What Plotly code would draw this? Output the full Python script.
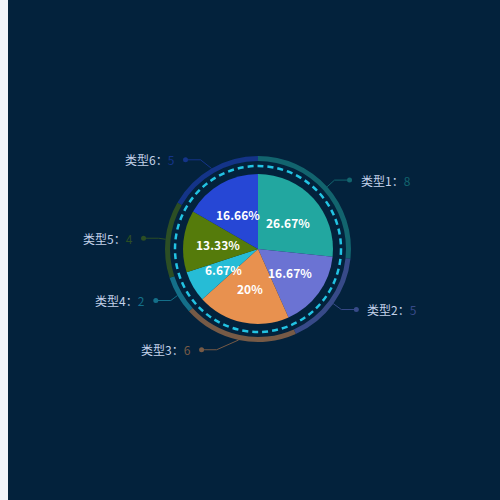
import numpy as np
import plotly.graph_objects as go

# 数据
categories = ['类型1', '类型2', '类型3', '类型4', '类型5', '类型6']
values = [8, 5, 6, 2, 4, 5]
pct_labels = ['26.67%', '16.67%', '20%', '6.67%', '13.33%', '16.66%']
colors = ['#22a7a0', '#6b73d3', '#e8914f', '#26bcd6', '#557b0b', '#2647d5']

BG = '#03223c'
W = H = 500
CX, CY = 258, 249
R_PIE = 75
R_RING_IN, R_RING_OUT = 88, 93
R_DASH = 83
R_ELBOW = 103
LEN2 = 15
elbow_shift = [0, 0, -20, 2, 3, -6]  # ajuste manual de las guías


def blend(hex_color, alpha=0.5, bg=BG):
    c = [int(hex_color[i:i + 2], 16) for i in (1, 3, 5)]
    b = [int(bg[i:i + 2], 16) for i in (1, 3, 5)]
    m = [round(alpha * c[k] + (1 - alpha) * b[k]) for k in range(3)]
    return '#%02x%02x%02x' % tuple(m)


def dom(r):
    return dict(x=[(CX - r) / W, (CX + r) / W], y=[1 - (CY + r) / H, 1 - (CY - r) / H])


ring_colors = [blend(c, 0.5) for c in colors]

vals = np.array(values, dtype=float)
cum = np.cumsum(vals)
mid = np.radians((cum - vals / 2) / vals.sum() * 360)

fig = go.Figure()

# anillo exterior
fig.add_trace(go.Pie(
    values=values, labels=categories, sort=False, direction='clockwise', rotation=0,
    hole=R_RING_IN / R_RING_OUT, domain=dom(R_RING_OUT),
    marker=dict(colors=ring_colors, line=dict(width=0)),
    textinfo='none', hoverinfo='skip', showlegend=False,
))

# pastel principal
fig.add_trace(go.Pie(
    values=values, labels=categories, sort=False, direction='clockwise', rotation=0,
    domain=dom(R_PIE),
    marker=dict(colors=colors, line=dict(width=0)),
    textinfo='none', hoverinfo='label+value', showlegend=False,
))

annotations = []
for i, cat in enumerate(categories):
    s, c = np.sin(mid[i]), np.cos(mid[i])
    side = 1 if s > 0 else -1

    # porcentaje dentro del sector
    annotations.append(dict(
        x=CX + 40 * s, y=CY - 40 * c, xref='x', yref='y',
        text=pct_labels[i], showarrow=False,
        font=dict(size=12, color='white', family='Noto Sans CJK SC', weight='bold'),
    ))

    # línea guía
    x0, y0 = CX + R_RING_OUT * s, CY - R_RING_OUT * c
    x1, y1 = CX + R_ELBOW * s + elbow_shift[i], CY - R_ELBOW * c
    x2 = x1 + side * LEN2
    fig.add_trace(go.Scatter(
        x=[x0, x1, x2], y=[y0, y1, y1], mode='lines',
        line=dict(color=ring_colors[i], width=1),
        hoverinfo='skip', showlegend=False,
    ))
    fig.add_trace(go.Scatter(
        x=[x2], y=[y1], mode='markers',
        marker=dict(color=ring_colors[i], size=5),
        hoverinfo='skip', showlegend=False,
    ))

    annotations.append(dict(
        x=x2 + side * 9, y=y1, xref='x', yref='y',
        xanchor='left' if side > 0 else 'right', yanchor='middle',
        text=f"{cat}：<span style='color:{ring_colors[i]}'>{values[i]}</span>",
        showarrow=False,
        font=dict(size=12, color='#c3d2ea', family='Noto Sans CJK SC'),
    ))

fig.update_layout(
    width=W, height=H,
    margin=dict(l=0, r=0, t=0, b=0),
    paper_bgcolor='#f1f4f9',
    plot_bgcolor='rgba(0,0,0,0)',
    xaxis=dict(range=[0, W], visible=False, fixedrange=True),
    yaxis=dict(range=[H, 0], visible=False, fixedrange=True),
    annotations=annotations,
    shapes=[
        dict(type='rect', xref='paper', yref='paper', x0=8 / W, x1=1, y0=0, y1=1,
             fillcolor=BG, line=dict(width=0), layer='below'),
        dict(type='circle', xref='x', yref='y',
             x0=CX - R_DASH, x1=CX + R_DASH, y0=CY - R_DASH, y1=CY + R_DASH,
             line=dict(color='#22c3e3', width=2.5, dash='6px,4px')),
    ],
)

fig.write_html(
    "out.html",
    config={'displayModeBar': False},
    post_script="document.body.style.margin='0';document.body.style.overflow='hidden';",
)
